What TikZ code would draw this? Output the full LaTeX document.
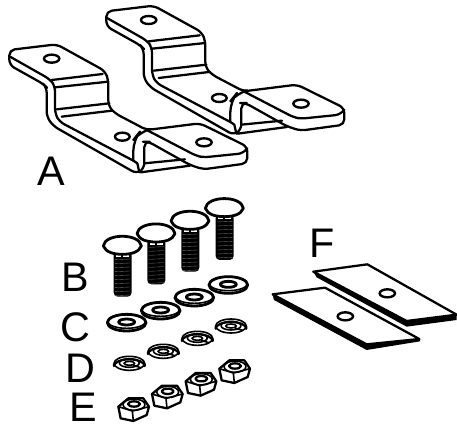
\documentclass[tikz,border=0pt]{standalone}
\usepackage{fontspec}
\setmainfont{Liberation Sans}
\tikzset{
  part/.style={line width=1.7pt,line join=round,line cap=round},
  thin part/.style={line width=1.2pt,line join=round,line cap=round},
  heavy/.style={line width=2.1pt,line join=round,line cap=round},
  hole/.style={line width=1.8pt,fill=white},
  letter/.style={font=\fontsize{31}{31}\selectfont,inner sep=0pt}
}

\begin{document}
\begin{tikzpicture}[x=0.25pt,y=-0.25pt]
	\useasboundingbox (0,0) rectangle (1371,1281);

	% brackets
	\foreach \dx/\dy in {291/-116,0/0} {
	\begin{scope}[shift={(\dx,\dy)}]
		\draw[part,fill=white,rounded corners=4pt] (28,150) -- (170,133) -- (315,213) -- (325,240) -- (325,318) -- (345,340) -- (440,390) -- (600,370) -- (742,440) -- (742,490) -- (610,508) -- (570,495) -- (445,425) -- (433,425) -- (433,505) -- (410,521) -- (160,378) -- (140,350) -- (140,262) -- (130,252) -- (28,195) -- cycle; % outline
		\draw[part,rounded corners=4pt] (30,170) -- (150,238) -- (165,258) -- (165,340) -- (178,365) -- (400,482); % upper edge
		\draw[part,rounded corners=8pt] (400,482) -- (400,420) -- (420,395) -- (440,390); % fold
		\draw[part,rounded corners=4pt] (440,390) -- (590,468) -- (612,472) -- (730,460) -- (742,445); % flange
		\draw[part] (155,240) -- (308,222);
		\draw[part] (165,262) -- (325,245);
		\draw[part] (170,328) -- (328,310);
		\draw[part] (185,350) -- (336,332);
		\draw[part] (433,490) -- (555,478);
		\draw[part] (422,517) -- (570,497);
		\draw[part] (400,482) -- (412,490) -- (418,517);
		\draw[hole] (155,176) ellipse [x radius=23,y radius=12];
		\draw[hole] (367,410) ellipse [x radius=22,y radius=12];
		\draw[hole] (612,427) ellipse [x radius=23,y radius=12];
	\end{scope}
	}

	% bolts
	\foreach \bx/\by/\len in {217/165/155,318/128/155,420/90/155,523/52/158} {
	\begin{scope}[shift={(\bx+150,\by+570)}]
		\fill[rounded corners=3pt] (-26,20) rectangle (28,\len); % shank
		\foreach \ty in {44,56,...,\len} {
			\draw[black!55,line width=0.25pt] (-22,\ty) -- (24,\ty-2);
		}
		\fill[white] (-18,26) rectangle (-3,36);
		\fill[white] (3,26) rectangle (20,36);
		\draw[heavy,fill=white] (-57,3) .. controls (-52,-36) and (52,-36) .. (57,3) .. controls (50,22) and (25,28) .. (0,28) .. controls (-25,28) and (-50,22) .. (-57,3) -- cycle; % head
	\end{scope}
	}

	% flat washers
	\foreach \wx/\wy in {230/396,332/360,433/321,535/283} {
	\begin{scope}[shift={(\wx+150,\wy+570)}]
		\draw[heavy,fill=white] (0,2) ellipse [x radius=58,y radius=25];
		\draw[thin part] (0,-2) ellipse [x radius=57,y radius=21];
		\draw[heavy] (0,0) ellipse [x radius=24,y radius=9];
	\end{scope}
	}

	% lock washers
	\foreach \lx/\ly in {238/523,340/487,442/448,543/411} {
	\begin{scope}[shift={(\lx+150,\ly+570)}]
		\draw[thin part,fill=white] (0,-3) ellipse [x radius=46,y radius=21];
		\draw[part] (-46,-1) -- (-46,5) arc [start angle=180,end angle=360,x radius=46,y radius=20] -- (46,-1);
		\draw[thin part] (0,-4) ellipse [x radius=30,y radius=13];
		\draw[thin part] (0,-3) ellipse [x radius=16,y radius=6];
		\draw[thin part] (12,3) -- (34,10);
	\end{scope}
	}

	% nuts
	\foreach \nx/\ny in {250/658,351/620,452/582,553/544} {
	\begin{scope}[shift={(\nx+150,\ny+570)}]
		\draw[part,fill=white] (-45,-8) -- (-15,-33) -- (30,-33) -- (47,-8) -- (40,17) -- (0,35) -- (-38,27) -- cycle;
		\draw[thin part] (-45,-8) -- (-3,5) -- (47,-8);
		\draw[thin part] (-3,5) -- (0,35);
		\draw[thin part] (2,-14) ellipse [x radius=33,y radius=17];
		\draw[part,fill=white] (2,-16) ellipse [x radius=18,y radius=8];
	\end{scope}
	}

	% plates
	\begin{scope}[shift={(780,660)}]
		\fill (160,155) -- (170,172) -- (440,320) -- (590,300) -- (590,284) -- (440,300) -- cycle; % rear edge
		\draw[part,fill=white] (160,155) -- (322,133) -- (590,284) -- (440,303) -- cycle;
		\draw[hole] (382,220) ellipse [x radius=23,y radius=12];
		\fill (38,225) -- (42,240) -- (320,390) -- (480,364) -- (480,356) -- (320,375) -- cycle; % front edge
		\draw[part,fill=white] (38,223) -- (195,203) -- (478,357) -- (320,373) -- cycle;
		\draw[hole] (256,289) ellipse [x radius=23,y radius=12];
	\end{scope}

	% labels
	\node[letter] (labelA) at (153,513) {A};
	\node[letter] (labelB) at (225,832) {B};
	\node[letter] (labelC) at (226,982) {C};
	\node[letter] (labelD) at (240,1105) {D};
	\node[letter] (labelE) at (250,1222) {E};
	\node[letter] (labelF) at (967,730) {F};
\end{tikzpicture}
\end{document}
